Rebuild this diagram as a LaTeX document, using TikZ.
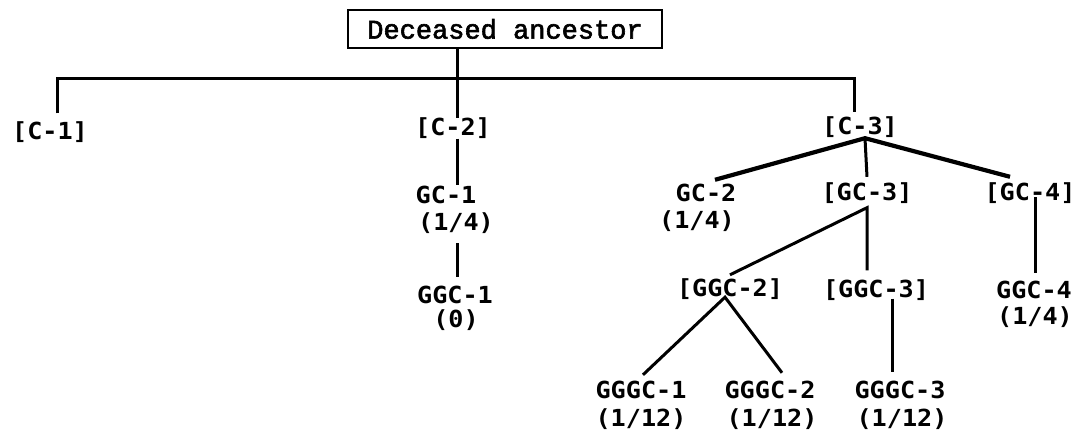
\documentclass[tikz,border=0pt]{standalone}
\usepackage{fontspec}
\usetikzlibrary{calc}
\newfontfamily\boxfont[FakeBold=2.2]{Liberation Mono}
\newfontfamily\labfont[FakeStretch=1.07]{DejaVu Sans Mono}
\begin{document}
\begin{tikzpicture}[x=1pt,y=-1pt,
  lab/.style={font=\labfont\bfseries\fontsize{23.5}{24}\selectfont, inner sep=0pt, text height=17pt, text depth=0pt, anchor=center},
  conn/.style={line width=3pt},
  fan/.style={line width=4.2pt}]
\useasboundingbox (0,0) rectangle (1080,435);
% root
\node[draw, line width=2.4pt, minimum width=314pt, minimum height=38pt, inner sep=0pt,
      font=\boxfont\fontsize{27}{28}\selectfont] (anc) at (505,29) {Deceased ancestor};
% children
\node[lab] (c1) at (50,131) {[C-1]};
\node[lab] (c2) at (453,127) {[C-2]};
\node[lab] (c3) at (860,126) {[C-3]};
% C-2 line
\node[lab] (gc1) at (446,195) {GC-1};
\node[lab] (gc1s) at (456,222) {(1/4)};
\node[lab] (ggc1) at (455,295) {GGC-1};
\node[lab] (ggc1s) at (456,319) {(0)};
% C-3 line
\node[lab] (gc2) at (706,193) {GC-2};
\node[lab] (gc2s) at (697,220) {(1/4)};
\node[lab] (gc3) at (867,192) {[GC-3]};
\node[lab] (gc4) at (1030,192) {[GC-4]};
\node[lab] (ggc2) at (730,288) {[GGC-2]};
\node[lab] (ggc3) at (876,289) {[GGC-3]};
\node[lab] (ggc4) at (1034,290) {GGC-4};
\node[lab] (ggc4s) at (1035,316) {(1/4)};
\node[lab] (gggc1) at (641,390) {GGGC-1};
\node[lab] (gggc1s) at (641,418) {(1/12)};
\node[lab] (gggc2) at (770,390) {GGGC-2};
\node[lab] (gggc2s) at (772,418) {(1/12)};
\node[lab] (gggc3) at (900,390) {GGGC-3};
\node[lab] (gggc3s) at (902,418) {(1/12)};
% connectors
\draw[conn] ($(c1.north)+(7,-9)$) -- ++(0,-35) -| ($(c3.north)+(-6,-5)$);
\draw[conn] ($(anc.south)+(-48,0)$) -- ($(c2.north)+(4,0)$);
\draw[conn] ($(c2.south)+(4,3)$) -- ($(gc1.north)+(11,-1)$);
\draw[conn] ($(gc1s.south)+(1,12.5)$) -- ($(ggc1.north)+(2,-9.5)$);
\draw[fan] ($(gc2.north)+(9,-4.5)$) -- ($(c3.south)+(5,3.5)$) -- ($(gc4.north)+(-20,-6.5)$);
\draw[conn] ($(c3.south)+(5,3.5)$) -- ($(gc3.north)+(0,-6.5)$);
\draw[conn] ($(ggc2.north)+(0,-4.5)$) -- ($(gc3.south)+(0,7)$) -- ($(ggc3.north)+(-9,-10)$);
\draw[conn] ($(gc4.south)+(5,-3.5)$) -- ($(ggc4.north)+(1,-8)$);
\draw[conn] ($(gggc1.north)+(2,-6.5)$) -- ($(ggc2.south)+(-5,0.5)$) -- ($(gggc2.north)+(12,-8.5)$);
\draw[conn] ($(ggc3.south)+(16,1)$) -- ($(gggc3.north)+(-8,-9.5)$);
\end{tikzpicture}
\end{document}
